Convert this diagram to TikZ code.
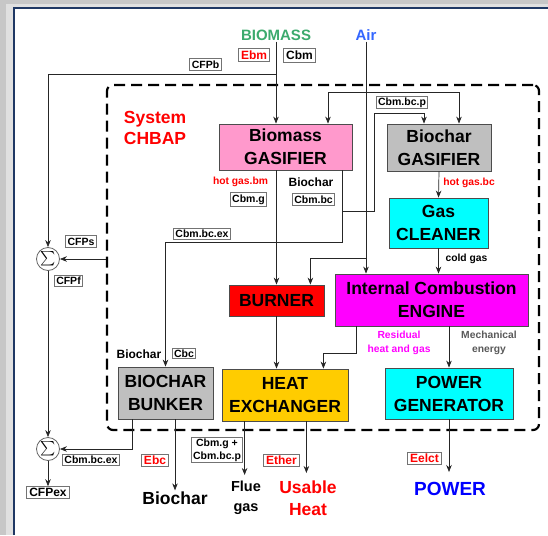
\documentclass[tikz,border=0pt]{standalone}
\usepackage{amsmath}
\usepackage{fontspec}
\setmainfont{Liberation Sans}
\usetikzlibrary{arrows.meta,calc}
\definecolor{pinkbox}{RGB}{255,153,204}
\definecolor{graybox}{RGB}{191,191,191}
\definecolor{cyanbox}{RGB}{0,255,255}
\definecolor{magbox}{RGB}{255,0,255}
\definecolor{redbox}{RGB}{255,0,0}
\definecolor{goldbox}{RGB}{255,204,0}
\definecolor{bmgreen}{RGB}{60,170,110}
\definecolor{airblue}{RGB}{51,102,255}
\definecolor{navyframe}{RGB}{31,56,100}
\definecolor{mechgray}{RGB}{90,90,90}
\tikzset{
  box/.style={draw=black!70, line width=0.8pt, align=center, inner sep=0pt,
    font=\fontsize{17.5}{23}\selectfont\bfseries},
  lab/.style={draw=black!55, line width=1pt, fill=white, inner xsep=2pt, inner ysep=2.3pt, align=center,
    font=\fontsize{10.5}{13}\selectfont\bfseries},
  labbig/.style={lab, inner xsep=2.5pt, inner ysep=2.3pt, font=\fontsize{12}{14}\selectfont\bfseries},
  txt/.style={inner sep=1pt, align=center, font=\fontsize{10.3}{14}\selectfont\bfseries},
  bigtxt/.style={inner sep=1pt, align=center, font=\fontsize{17.5}{22}\selectfont\bfseries},
  conn/.style={line width=0.7pt, draw=black!85, -{Stealth[length=7pt,width=5.5pt]}},
  sumnode/.style={circle, draw=black!60, line width=0.8pt, minimum size=23pt, inner sep=0pt, fill=white,
    font=\fontsize{14}{16}\selectfont},
}
\begin{document}
\begin{tikzpicture}[x=1pt,y=-1pt]
\useasboundingbox (0,0) rectangle (548,535);
% frame with shadow
\fill[black!22] (0,0) rectangle (548,535);
\fill[black!12] (6,4) rectangle (548,535);
\fill[white] (14,8) rectangle (548,535);
\draw[navyframe, line width=1.5pt] (14,535) -- (14,8) -- (548,8);

% system boundary
\node[draw=black, line width=2.2pt, dash pattern=on 11pt off 6pt, rounded corners=6pt,
  minimum width=432pt, minimum height=345pt, inner sep=0pt] (sys) at (323,257.5) {};
\node[txt, text=red, font=\fontsize{17.5}{21}\selectfont\bfseries, align=left] (systxt) at (155,127.5) {System\\CHBAP};

% main boxes
\node[box, fill=pinkbox, minimum width=133pt, minimum height=46pt] (bmg) at (285.5,147) {Biomass\\GASIFIER};
\node[box, fill=graybox, minimum width=104pt, minimum height=47pt] (bcg) at (439,147.5) {Biochar\\GASIFIER};
\node[box, fill=cyanbox, minimum width=99pt, minimum height=50pt] (gc) at (438.5,223) {Gas\\CLEANER};
\node[box, fill=magbox, minimum width=193pt, minimum height=52pt] (ice) at (431.5,300) {Internal Combustion\\ENGINE};
\node[box, fill=redbox, minimum width=95pt, minimum height=31pt] (burner) at (276.5,300.5) {BURNER};
\node[box, fill=goldbox, minimum width=126pt, minimum height=52pt] (hx) at (285,395) {HEAT\\EXCHANGER};
\node[box, fill=graybox, minimum width=95pt, minimum height=52pt] (bunker) at (165.5,393) {BIOCHAR\\BUNKER};
\node[box, fill=cyanbox, minimum width=128pt, minimum height=51pt] (pg) at (449,393.5) {POWER\\GENERATOR};

% sum nodes
\node[sumnode] (s1) at (48,259) {$\sum$};
\node[sumnode] (s2) at (48,449) {$\sum$};

% inputs / outputs text
\node[inner sep=1pt, text=bmgreen, font=\fontsize{15}{17}\selectfont\bfseries] (biomass) at (276,35) {BIOMASS};
\node[inner sep=1pt, text=airblue, font=\fontsize{15}{17}\selectfont\bfseries] (air) at (366,35) {Air};
\node[bigtxt] (biocharout) at (175,498) {Biochar};
\node[inner sep=1pt, align=center, font=\fontsize{14.5}{20}\selectfont\bfseries] (flue) at (246,498) {Flue\\gas};
\node[bigtxt, text=red] (heat) at (308,498) {Usable\\Heat};
\node[inner sep=1pt, text=blue, font=\fontsize{19}{21}\selectfont\bfseries] (power) at (450,489) {POWER};

% connectors
\draw[conn] (biomass.south) -- (biomass.south |- bmg.north);
\coordinate (cfpbj) at (biomass.south |- 0,74);
\draw[conn] (cfpbj) -| (s1.north);
\draw[conn] (air.south) -- (air.south |- ice.north);
\coordinate (ag1) at ($(bmg.north)+(42.5,-31)$);
\coordinate (ag2) at ($(bcg.north)+(20,-31)$);
\draw[conn] (ag1) -- (ag1 |- bmg.north);
\draw[conn] (ag1) -- (ag2) -- (ag2 |- bcg.north);
\draw[conn] (burner.north |- bmg.south) -- (burner.north);
\draw[conn] (burner.south) -- (burner.south |- hx.north);
\coordinate (bc0) at ($(bmg.south east)+(-10,0)$);
\coordinate (bc1) at ($(bc0)+(0,72)$);
\draw[conn] (bc0) -- (bc1) -| (bunker.north);
\coordinate (bc2) at ($(bc0)+(0,41)$);
\coordinate (bc3) at ($(bcg.north)+(-15,-10)$);
\draw[conn] (bc2) -- ++(32,0) |- (bc3) -- (bc3 |- bcg.north);
\draw[conn] (bcg.south) -- (gc.north);
\draw[conn] (gc.south) -- (gc.south |- ice.north);
\coordinate (ab) at (air.south |- 0,258);
\draw[conn] (ab) -| ($(burner.north east)+(-14,0)$);
\coordinate (r0) at ($(ice.south west)+(22,0)$);
\draw[conn] (r0) -- ++(0,27) -| ($(hx.north east)+(-25,0)$);
\draw[conn] (pg.north |- ice.south) -- (pg.north);
\draw[conn] ($(bunker.south west)+(15,0)$) |- (s2.east);
\coordinate (bo) at ($(bunker.south)+(9.5,0)$);
\draw[conn] (bo) -- (bo |- biocharout.north);
\draw[conn] (s1.south) -- (s2.north);
\draw[conn] (sys.west |- s1.east) -- (s1.east);

% labels
\node[labbig] (ebm) at (254,55) {\textcolor{red}{Ebm}};
\node[labbig] (cbm) at (299.5,55.5) {Cbm};
\node[lab] (cfpb) at (205.5,64.5) {CFPb};
\node[lab, inner ysep=1.2pt] (cbmbcp) at (402,102.5) {Cbm.bc.p};
\node[txt, text=red] (hgbm) at (240.5,182) {hot gas.bm};
\node[lab] (cbmg) at (248.5,199.5) {Cbm.g};
\node[txt, font=\fontsize{12}{14}\selectfont\bfseries] (bctxt) at (311,182) {Biochar};
\node[lab] (cbmbc) at (313.5,199.5) {Cbm.bc};
\node[txt, text=red] (hgbc) at (469,183) {hot gas.bc};
\node[txt] (cold) at (466.5,259) {cold gas};
\node[lab, inner ysep=1.2pt] (cbmbcex1) at (202,234) {Cbm.bc.ex};
\node[lab] (cfps) at (81,241.5) {CFPs};
\node[lab, inner ysep=1.2pt] (cfpf) at (68.5,281) {CFPf};
\node[txt, text=magbox] (resid) at (399,343) {Residual\\heat and gas};
\node[txt, text=mechgray] (mech) at (489,343) {Mechanical\\energy};
\node[txt, font=\fontsize{12}{14}\selectfont\bfseries] (bctxt2) at (139,354) {Biochar};
\node[lab, inner ysep=1.2pt] (cbc) at (184,353.5) {Cbc};
\node[lab, inner ysep=1.2pt] (cbmbcex2) at (91,460) {Cbm.bc.ex};
\node[labbig, inner ysep=1.5pt] (cfpex) at (48,492.5) {CFPex};
\node[labbig, inner ysep=1.5pt] (ebc) at (155,460.5) {\textcolor{red}{Ebc}};
\node[lab, inner ysep=1.5pt] (cbmgp) at (217,450) {Cbm.g +\\Cbm.bc.p};
\node[labbig, inner ysep=1.5pt] (ether) at (281.5,460.5) {\textcolor{red}{Ether}};
\node[labbig, inner ysep=1.5pt] (eelct) at (424.5,458.5) {\textcolor{red}{Eelct}};

% outlet connectors
\draw[conn] (s2.south) -- (cfpex.north);
\coordinate (f0) at ($(hx.south west)+(23,0)$);
\draw[conn] (f0) -- (f0 |- 0,475);
\coordinate (h0) at ($(hx.south east)+(-42,0)$);
\draw[conn] (h0) -- (h0 |- 0,473);
\draw[conn] (pg.south) -- (pg.south |- 0,472);
\end{tikzpicture}
\end{document}
